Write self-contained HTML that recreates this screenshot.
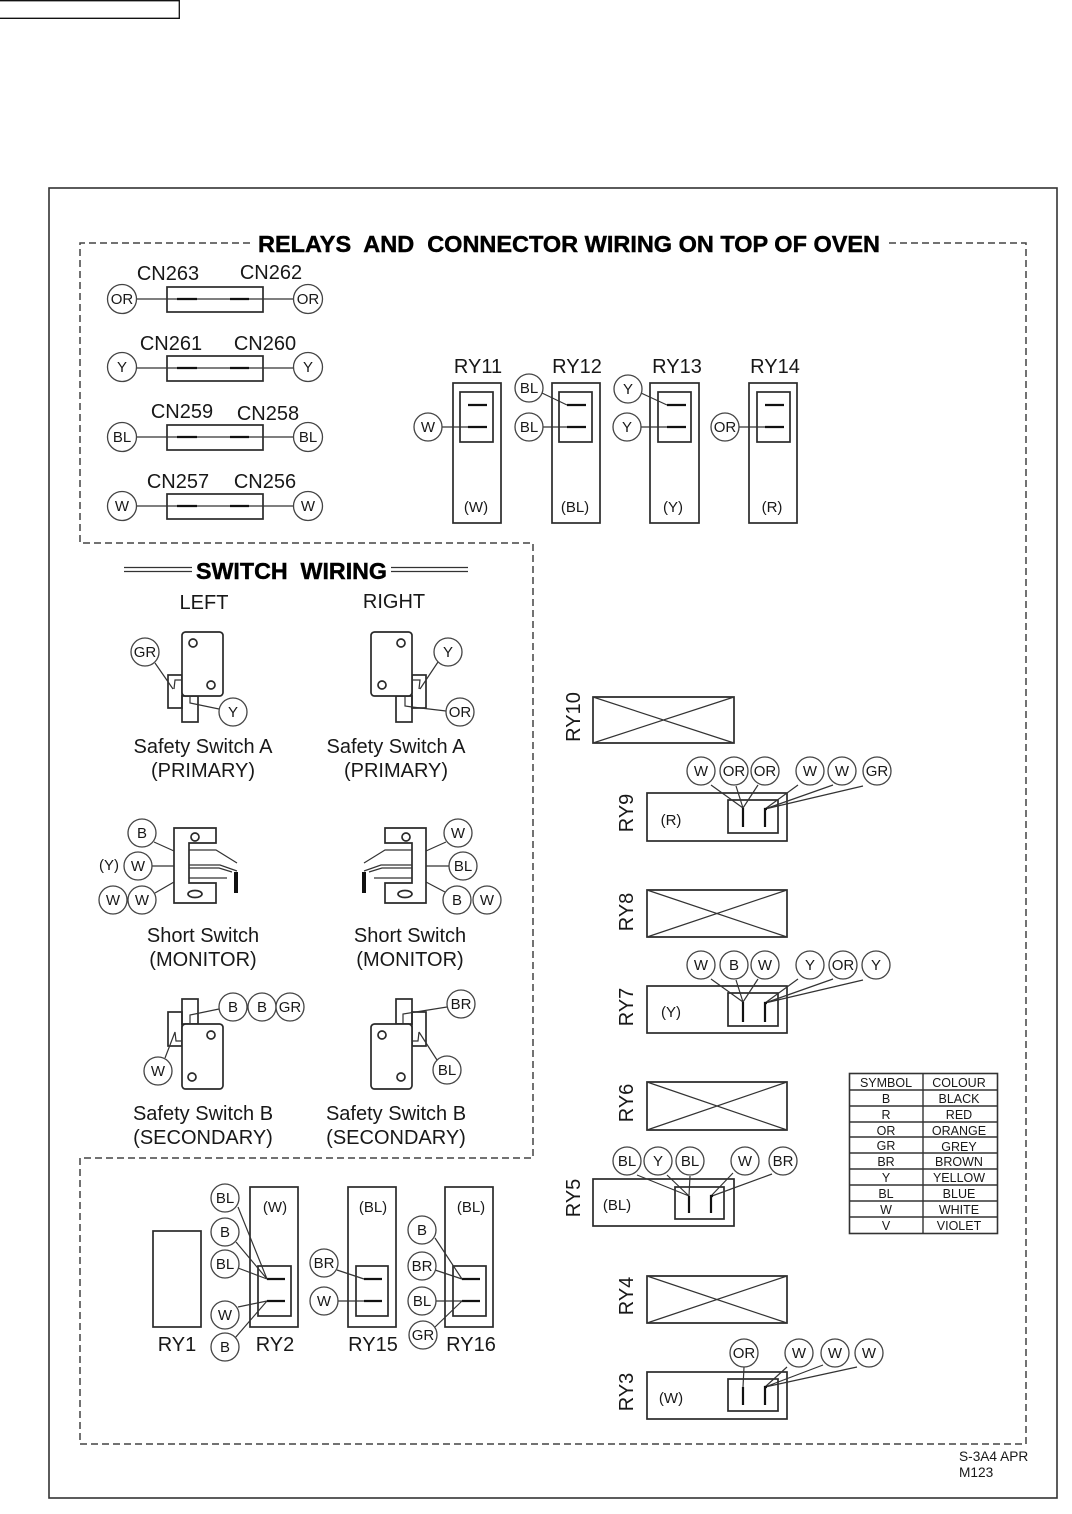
<!DOCTYPE html>
<html><head><meta charset="utf-8"><title>Wiring diagram</title>
<style>
html,body{margin:0;padding:0;background:#fff}
svg{display:block;filter:blur(.35px)}
text{font-family:"Liberation Sans",sans-serif;fill:#181818;stroke:none}
.m{text-anchor:middle}
.l{font-size:20px}
.s{font-size:15px;text-anchor:middle}
.t{font-size:12.5px;text-anchor:middle}
text.b{font-weight:bold;fill:#000;stroke:#000;stroke-width:.45}
.c circle{fill:#fff;stroke:#444;stroke-width:1.3}
.c text{font-size:15px;text-anchor:middle}
.w{fill:none;stroke:#333;stroke-width:1.2}
.k{fill:none;stroke:#2a2a2a;stroke-width:1.7}
.h{fill:none;stroke:#111;stroke-width:2.2}
</style></head><body>
<svg xmlns="http://www.w3.org/2000/svg" width="1072" height="1514" viewBox="0 0 1072 1514">
<rect width="1072" height="1514" fill="#fff"/>
<path d="M0 .7H179.3V18.3H0" fill="none" stroke="#111" stroke-width="1.3"/>
<rect x="49" y="188" width="1008" height="1310" fill="none" stroke="#333" stroke-width="1.6"/>
<path d="M250 243H80V543H533V1158H80V1444H1026V243H888" fill="none" stroke="#444" stroke-width="1.5" stroke-dasharray="7 4"/>
<text x="258" y="252" font-size="23" class="b" textLength="622" lengthAdjust="spacingAndGlyphs" xml:space="preserve">RELAYS  AND  CONNECTOR WIRING ON TOP OF OVEN</text>

<!-- connectors -->
<g class="k">
<rect x="167" y="287" width="96" height="25"/><rect x="167" y="356" width="96" height="25"/><rect x="167" y="425" width="96" height="25"/><rect x="167" y="494" width="96" height="25"/>
</g>
<g class="w"><path d="M136 299H293M136 368H293M136 437H293M136 506H293"/></g>
<g class="h"><path d="M177 299H197M230 299H249M177 368H197M230 368H249M177 437H197M230 437H249M177 506H197M230 506H249"/></g>
<g class="l m">
<text x="168" y="280">CN263</text><text x="271" y="279">CN262</text>
<text x="171" y="350">CN261</text><text x="265" y="350">CN260</text>
<text x="182" y="418">CN259</text><text x="268" y="420">CN258</text>
<text x="178" y="488">CN257</text><text x="265" y="488">CN256</text>
</g>
<g class="c">
<circle cx="122" cy="299" r="14.5"/><text x="122" y="304">OR</text><circle cx="308" cy="299" r="14.5"/><text x="308" y="304">OR</text>
<circle cx="122" cy="367" r="14.5"/><text x="122" y="372">Y</text><circle cx="308" cy="367" r="14.5"/><text x="308" y="372">Y</text>
<circle cx="122" cy="437" r="14.5"/><text x="122" y="442">BL</text><circle cx="308" cy="437" r="14.5"/><text x="308" y="442">BL</text>
<circle cx="122" cy="506" r="14.5"/><text x="122" y="511">W</text><circle cx="308" cy="506" r="14.5"/><text x="308" y="511">W</text>
</g>

<!-- RY11-14 -->
<g class="k">
<rect x="453" y="383" width="48" height="140"/><rect x="460" y="392" width="33" height="50"/>
<rect x="552" y="383" width="48" height="140"/><rect x="559" y="392" width="33" height="50"/>
<rect x="650" y="383" width="49" height="140"/><rect x="658" y="392" width="33" height="50"/>
<rect x="749" y="383" width="48" height="140"/><rect x="757" y="392" width="33" height="50"/>
</g>
<g class="h"><path d="M468 405H487M468 427H487M567 405H586M567 427H586M667 405H686M667 427H686M765 405H784M765 427H784"/></g>
<g class="w"><path d="M442 427H468M542 427H567M542 393L567 405M641 427H667M641 393L667 405M739 427H765"/></g>
<g class="l m"><text x="478" y="373">RY11</text><text x="577" y="373">RY12</text><text x="677" y="373">RY13</text><text x="775" y="373">RY14</text></g>
<g class="s"><text x="476" y="512">(W)</text><text x="575" y="512">(BL)</text><text x="673" y="512">(Y)</text><text x="772" y="512">(R)</text></g>
<g class="c">
<circle cx="428" cy="427" r="14"/><text x="428" y="432">W</text>
<circle cx="529" cy="388" r="14"/><text x="529" y="393">BL</text><circle cx="529" cy="427" r="14"/><text x="529" y="432">BL</text>
<circle cx="628" cy="389" r="14"/><text x="628" y="394">Y</text><circle cx="627" cy="427" r="14"/><text x="627" y="432">Y</text>
<circle cx="725" cy="427" r="14"/><text x="725" y="432">OR</text>
</g>

<!-- Switch title -->
<text x="196" y="579" font-size="23" class="b" textLength="191" lengthAdjust="spacingAndGlyphs" xml:space="preserve">SWITCH  WIRING</text>
<path d="M124 567.5H192M124 571.5H192M391 567.5H468M391 571.5H468" fill="none" stroke="#333" stroke-width="1.2"/>
<g class="l m"><text x="204" y="609">LEFT</text><text x="394" y="608">RIGHT</text>
<text x="203" y="753">Safety Switch A</text><text x="203" y="777">(PRIMARY)</text>
<text x="396" y="753">Safety Switch A</text><text x="396" y="777">(PRIMARY)</text>
<text x="203" y="942">Short Switch</text><text x="203" y="966">(MONITOR)</text>
<text x="410" y="942">Short Switch</text><text x="410" y="966">(MONITOR)</text>
<text x="203" y="1120">Safety Switch B</text><text x="203" y="1144">(SECONDARY)</text>
<text x="396" y="1120">Safety Switch B</text><text x="396" y="1144">(SECONDARY)</text>
</g>

<!-- Safety switch A left -->
<g class="k">
<rect x="168" y="675" width="14" height="33"/><rect x="182" y="696" width="16" height="26"/>
<rect x="182" y="632" width="41" height="64" rx="3.5" fill="#fff"/>
<circle cx="193" cy="643" r="4"/><circle cx="211" cy="685" r="4"/>
</g>
<path d="M155 663L173 689M174 689L175 680H182M219 709L190 703V697" class="w"/>
<!-- Safety switch A right -->
<g class="k">
<rect x="412" y="675" width="14" height="33"/><rect x="396" y="696" width="16" height="26"/>
<rect x="371" y="632" width="41" height="64" rx="3.5" fill="#fff"/>
<circle cx="401" cy="643" r="4"/><circle cx="382" cy="685" r="4"/>
</g>
<path d="M438 662L420 689M419 689L420 680H412M446 711L412 707L405 706V697" class="w"/>
<g class="c">
<circle cx="145" cy="652" r="14"/><text x="145" y="657">GR</text><circle cx="233" cy="712" r="14"/><text x="233" y="717">Y</text>
<circle cx="448" cy="652" r="14"/><text x="448" y="657">Y</text><circle cx="460" cy="712" r="14"/><text x="460" y="717">OR</text>
</g>

<!-- Short switch left -->
<path d="M174 828H216V843H189V883H216V903H174Z" class="k"/>
<circle cx="195" cy="837" r="4" class="k"/><ellipse cx="195" cy="894" rx="7" ry="3.5" class="k"/>
<path d="M189 850H216L237 863M189 865H220L237 871M189 868H219L232 872M189 878H227M154 842L174 851M152 866H174M155 893L174 882" class="w"/>
<path d="M236 872V893" fill="none" stroke="#111" stroke-width="4"/>
<!-- Short switch right -->
<path d="M426 828H385V843H412V883H385V903H426Z" class="k"/>
<circle cx="406" cy="837" r="4" class="k"/><ellipse cx="405" cy="894" rx="7" ry="3.5" class="k"/>
<path d="M412 850H385L364 863M412 865H381L364 871M412 868H382L369 872M412 878H374M426 851L446 842M426 866H449M426 882L445 892" class="w"/>
<path d="M364 872V893" fill="none" stroke="#111" stroke-width="4"/>
<text x="109" y="870" font-size="15" class="m">(Y)</text>
<g class="c">
<circle cx="142" cy="833" r="14"/><text x="142" y="838">B</text><circle cx="138" cy="866" r="14"/><text x="138" y="871">W</text>
<circle cx="113" cy="900" r="14"/><text x="113" y="905">W</text><circle cx="142" cy="900" r="14"/><text x="142" y="905">W</text>
<circle cx="458" cy="833" r="14"/><text x="458" y="838">W</text><circle cx="463" cy="866" r="14"/><text x="463" y="871">BL</text>
<circle cx="457" cy="900" r="14"/><text x="457" y="905">B</text><circle cx="487" cy="900" r="14"/><text x="487" y="905">W</text>
</g>

<!-- Safety switch B left -->
<g class="k">
<rect x="168" y="1012" width="14" height="34"/><rect x="182" y="999" width="16" height="25"/>
<rect x="182" y="1024" width="41" height="65" rx="3.5" fill="#fff"/>
<circle cx="211" cy="1035" r="4"/><circle cx="192" cy="1077" r="4"/>
</g>
<path d="M165 1058L175 1032M175 1032L176 1041H182M219 1009L190 1015V1024" class="w"/>
<!-- Safety switch B right -->
<g class="k">
<rect x="412" y="1012" width="14" height="34"/><rect x="396" y="999" width="16" height="25"/>
<rect x="371" y="1024" width="41" height="65" rx="3.5" fill="#fff"/>
<circle cx="382" cy="1035" r="4"/><circle cx="401" cy="1077" r="4"/>
</g>
<path d="M437 1060L419 1032M419 1032L418 1041H412M447 1007L403 1014V1024" class="w"/>
<g class="c">
<circle cx="158" cy="1071" r="14"/><text x="158" y="1076">W</text>
<circle cx="233" cy="1007" r="14"/><text x="233" y="1012">B</text><circle cx="262" cy="1007" r="14"/><text x="262" y="1012">B</text><circle cx="290" cy="1007" r="14"/><text x="290" y="1012">GR</text>
<circle cx="461" cy="1004" r="14"/><text x="461" y="1009">BR</text><circle cx="447" cy="1070" r="14"/><text x="447" y="1075">BL</text>
</g>

<!-- RY1, RY2, RY15, RY16 -->
<g class="k">
<rect x="153" y="1231" width="48" height="96"/>
<rect x="250" y="1187" width="48" height="140"/><rect x="258" y="1266" width="33" height="50"/>
<rect x="348" y="1187" width="48" height="140"/><rect x="356" y="1266" width="32" height="50"/>
<rect x="445" y="1187" width="48" height="140"/><rect x="453" y="1266" width="33" height="50"/>
</g>
<g class="h"><path d="M267 1279H285M267 1301H285M364 1279H382M364 1301H382M462 1279H480M462 1301H480"/></g>
<g class="w"><path d="M238 1207L267 1279M236 1242L267 1279M238 1268L267 1279M238 1307L267 1301M235 1338L267 1301M337 1270L364 1279M338 1301H364M435 1238L462 1279M435 1270L462 1279M436 1301H462M435 1327L462 1301"/></g>
<g class="s"><text x="275" y="1212">(W)</text><text x="373" y="1212">(BL)</text><text x="471" y="1212">(BL)</text></g>
<g class="l m"><text x="177" y="1351">RY1</text><text x="275" y="1351">RY2</text><text x="373" y="1351">RY15</text><text x="471" y="1351">RY16</text></g>
<g class="c">
<circle cx="225" cy="1198" r="14"/><text x="225" y="1203">BL</text><circle cx="225" cy="1232" r="14"/><text x="225" y="1237">B</text>
<circle cx="225" cy="1264" r="14"/><text x="225" y="1269">BL</text><circle cx="225" cy="1315" r="14"/><text x="225" y="1320">W</text>
<circle cx="225" cy="1347" r="14"/><text x="225" y="1352">B</text>
<circle cx="324" cy="1263" r="14"/><text x="324" y="1268">BR</text><circle cx="324" cy="1301" r="14"/><text x="324" y="1306">W</text>
<circle cx="422" cy="1230" r="14"/><text x="422" y="1235">B</text><circle cx="422" cy="1266" r="14"/><text x="422" y="1271">BR</text>
<circle cx="422" cy="1301" r="14"/><text x="422" y="1306">BL</text><circle cx="423" cy="1335" r="14"/><text x="423" y="1340">GR</text>
</g>

<!-- Right column relays -->
<g class="k">
<path d="M593 697H734V743H593Z"/><path d="M647 890H787V937H647Z"/><path d="M647 1082H787V1130H647Z"/><path d="M647 1276H787V1323H647Z"/>
<rect x="647" y="793" width="140" height="48"/><rect x="728" y="800" width="50" height="33"/>
<rect x="647" y="986" width="140" height="47"/><rect x="728" y="993" width="50" height="33"/>
<rect x="593" y="1179" width="141" height="47"/><rect x="675" y="1187" width="49" height="32"/>
<rect x="647" y="1372" width="140" height="47"/><rect x="728" y="1379" width="50" height="32"/>
</g>
<g class="w">
<path d="M593 697L734 743M734 697L593 743M647 890L787 937M787 890L647 937M647 1082L787 1130M787 1082L647 1130M647 1276L787 1323M787 1276L647 1323"/>
<path d="M711 785L743 808M736 786L743 808M758 785L743 808M798 785L765 809M833 785L765 809M863 786L765 809"/>
<path d="M711 979L743 1002M736 980L743 1002M758 979L743 1002M798 979L765 1003M833 979L765 1003M863 980L765 1003"/>
<path d="M637 1175L689 1196M667 1175L689 1196M690 1176L689 1196M733 1173L711 1196M772 1174L712 1196"/>
<path d="M744 1367L743 1387M787 1367L765 1387M823 1365L765 1387M857 1367L765 1387"/>
</g>
<g class="h">
<path d="M743 808V827M765 827V809H767M743 1002V1022M765 1022V1003H767M689 1196V1213M711 1213V1196H713M743 1387V1405M765 1405V1387H767"/>
</g>
<g class="l m">
<text transform="translate(580 717) rotate(-90)">RY10</text>
<text transform="translate(633 813) rotate(-90)">RY9</text>
<text transform="translate(633 912) rotate(-90)">RY8</text>
<text transform="translate(633 1007) rotate(-90)">RY7</text>
<text transform="translate(633 1103) rotate(-90)">RY6</text>
<text transform="translate(580 1198) rotate(-90)">RY5</text>
<text transform="translate(633 1296) rotate(-90)">RY4</text>
<text transform="translate(633 1392) rotate(-90)">RY3</text>
</g>
<g class="s"><text x="671" y="825">(R)</text><text x="671" y="1017">(Y)</text><text x="617" y="1210">(BL)</text><text x="671" y="1403">(W)</text></g>
<g class="c">
<circle cx="701" cy="771" r="14"/><text x="701" y="776">W</text><circle cx="734" cy="771" r="14"/><text x="734" y="776">OR</text><circle cx="765" cy="771" r="14"/><text x="765" y="776">OR</text>
<circle cx="810" cy="771" r="14"/><text x="810" y="776">W</text><circle cx="842" cy="771" r="14"/><text x="842" y="776">W</text><circle cx="877" cy="771" r="14"/><text x="877" y="776">GR</text>
<circle cx="701" cy="965" r="14"/><text x="701" y="970">W</text><circle cx="734" cy="965" r="14"/><text x="734" y="970">B</text><circle cx="765" cy="965" r="14"/><text x="765" y="970">W</text>
<circle cx="810" cy="965" r="14"/><text x="810" y="970">Y</text><circle cx="843" cy="965" r="14"/><text x="843" y="970">OR</text><circle cx="876" cy="965" r="14"/><text x="876" y="970">Y</text>
<circle cx="627" cy="1161" r="14"/><text x="627" y="1166">BL</text><circle cx="658" cy="1161" r="14"/><text x="658" y="1166">Y</text><circle cx="690" cy="1161" r="14"/><text x="690" y="1166">BL</text>
<circle cx="745" cy="1161" r="14"/><text x="745" y="1166">W</text><circle cx="783" cy="1161" r="14"/><text x="783" y="1166">BR</text>
<circle cx="744" cy="1353" r="14"/><text x="744" y="1358">OR</text><circle cx="799" cy="1353" r="14"/><text x="799" y="1358">W</text>
<circle cx="835" cy="1353" r="14"/><text x="835" y="1358">W</text><circle cx="869" cy="1353" r="14"/><text x="869" y="1358">W</text>
</g>

<!-- Colour table -->
<rect x="849.5" y="1073.5" width="148" height="160" fill="none" stroke="#333" stroke-width="1.6"/>
<path d="M923 1073V1233M849 1090H998M849 1106H998M849 1122H998M849 1137H998M849 1153H998M849 1169H998M849 1185H998M849 1201H998M849 1217H998" fill="none" stroke="#333" stroke-width="1.4"/>
<g class="t">
<text x="886" y="1087">SYMBOL</text><text x="959" y="1087">COLOUR</text>
<text x="886" y="1103">B</text><text x="959" y="1103">BLACK</text>
<text x="886" y="1119">R</text><text x="959" y="1119">RED</text>
<text x="886" y="1135">OR</text><text x="959" y="1135">ORANGE</text>
<text x="886" y="1150">GR</text><text x="959" y="1151">GREY</text>
<text x="886" y="1166">BR</text><text x="959" y="1166">BROWN</text>
<text x="886" y="1182">Y</text><text x="959" y="1182">YELLOW</text>
<text x="886" y="1198">BL</text><text x="959" y="1198">BLUE</text>
<text x="886" y="1214">W</text><text x="959" y="1214">WHITE</text>
<text x="886" y="1230">V</text><text x="959" y="1230">VIOLET</text>
</g>
<text x="959" y="1461" font-size="13.7">S-3A4 APR</text>
<text x="959" y="1477" font-size="13.7">M123</text>
</svg>
</body></html>
